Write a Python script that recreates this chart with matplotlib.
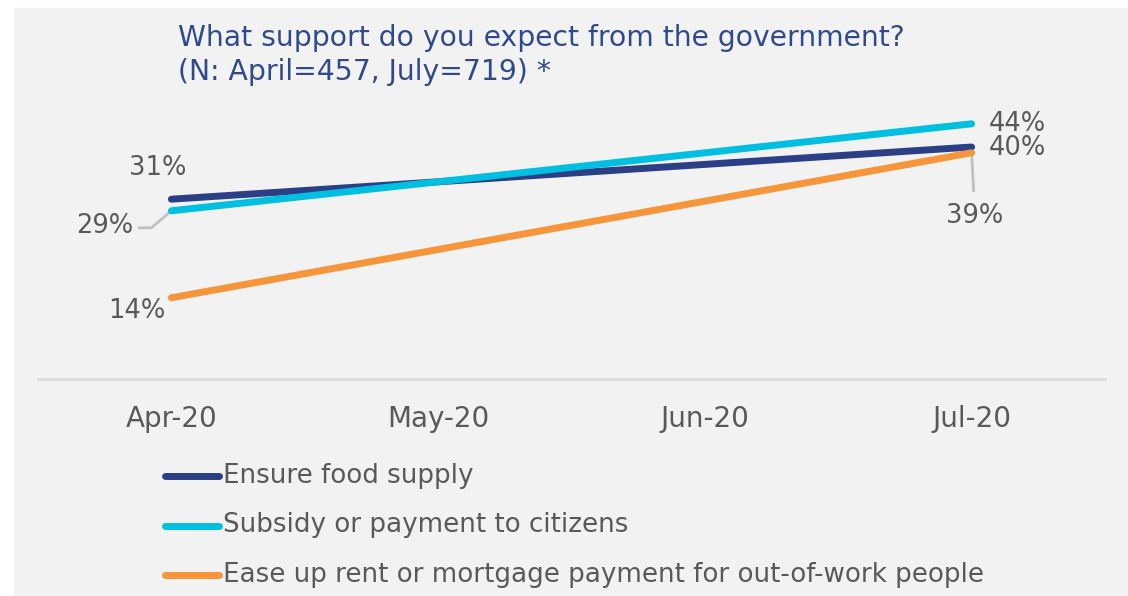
import matplotlib.pyplot as plt
from matplotlib.patches import Rectangle
from matplotlib.lines import Line2D

# data
months = ['Apr-20', 'May-20', 'Jun-20', 'Jul-20']
series_names = ['Ensure food supply',
                'Subsidy or payment to citizens',
                'Ease up rent or mortgage payment for out-of-work people']
food = [31, 40]
subsidy = [29, 44]
rent = [14, 39]
# positions of the two survey waves on the month axis
wave_idx = [0, 3]

colors = ['#2b3f86', '#00bfe0', '#f7953b']
label_color = '#595959'
title_color = '#2e4a8c'
bg = '#f2f2f2'

plt.rcParams['font.family'] = ['DejaVu Sans']

fig = plt.figure(figsize=(11.28, 5.96), dpi=100)
W, H = 1128, 596

# grey panel behind everything
fig.patches.append(Rectangle((14 / W, 0), 1 - 14 / W, 1 - 8 / H,
                             transform=fig.transFigure, color=bg, zorder=-10))

# axes placed in pixel terms: x from 38 to 1105, y(0)=379, y(50)=89
ax = fig.add_axes([38 / W, 1 - 379 / H, (1105 - 38) / W, (379 - 89) / H])
ax.set_facecolor('none')
ax.set_xlim(-0.5, 3.5)
ax.set_ylim(0, 50)
for s in ['top', 'right', 'left']:
    ax.spines[s].set_visible(False)
ax.spines['bottom'].set_color('#dcdcdc')
ax.spines['bottom'].set_linewidth(2)
ax.set_yticks([])
ax.set_xticks(range(len(months)))
ax.set_xticklabels(months, fontsize=20, color=label_color)
ax.tick_params(axis='x', length=0, pad=19)

all_series = [food, subsidy, rent]
for vals, c in zip(all_series, colors):
    ax.plot(wave_idx, vals, color=c, lw=5, solid_capstyle='round', zorder=3)

lab_kw = dict(fontsize=18.5, color=label_color, ha='center', va='center')

# April labels
ax.annotate(f'{food[0]}%', (wave_idx[0], food[0]), xytext=(-14, 31),
            textcoords='offset pixels', **lab_kw)
ax.annotate(f'{rent[0]}%', (wave_idx[0], rent[0]), xytext=(-35, -13),
            textcoords='offset pixels', **lab_kw)
ax.annotate(f'{subsidy[0]}%', (wave_idx[0], subsidy[0]), xytext=(-67, -15),
            textcoords='offset pixels', **lab_kw)
# leader line for 29%
x0, y0 = ax.transData.transform((wave_idx[0], subsidy[0]))
pts = [(x0 - 32, y0 - 17), (x0 - 20, y0 - 17), (x0, y0)]
inv = ax.transData.inverted()
lx, ly = zip(*[inv.transform(p) for p in pts])
ax.add_line(Line2D(lx, ly, color='#c0c0c0', lw=2, zorder=2))

# July labels
ax.annotate(f'{subsidy[1]}%', (wave_idx[1], subsidy[1]), xytext=(46, 0),
            textcoords='offset pixels', **lab_kw)
ax.annotate(f'{food[1]}%', (wave_idx[1], food[1]), xytext=(46, -1),
            textcoords='offset pixels', **lab_kw)
ax.annotate(f'{rent[1]}%', (wave_idx[1], rent[1]), xytext=(3, -63),
            textcoords='offset pixels', **lab_kw)
x1, y1 = ax.transData.transform((wave_idx[1], rent[1]))
pts = [(x1, y1), (x1 + 2, y1 - 38)]
lx, ly = zip(*[inv.transform(p) for p in pts])
ax.add_line(Line2D(lx, ly, color='#c0c0c0', lw=2, zorder=2))

# title
fig.text(178 / W, 1 - 38 / H, 'What support do you expect from the government?',
         fontsize=20.3, color=title_color, va='center', ha='left')
fig.text(178 / W, 1 - 72 / H, '(N: April=457, July=719) *',
         fontsize=20.3, color=title_color, va='center', ha='left')

# legend drawn as lines + text rows
for i, (name, c) in enumerate(zip(series_names, colors)):
    yy = 1 - (476 + 49.5 * i) / H
    fig.add_artist(Line2D([165 / W, 219 / W], [yy, yy], color=c, lw=5,
                          solid_capstyle='round', transform=fig.transFigure))
    fig.text(223 / W, yy, name, fontsize=18.8, color=label_color,
             va='center', ha='left')

fig.savefig('out.png', dpi=100)
